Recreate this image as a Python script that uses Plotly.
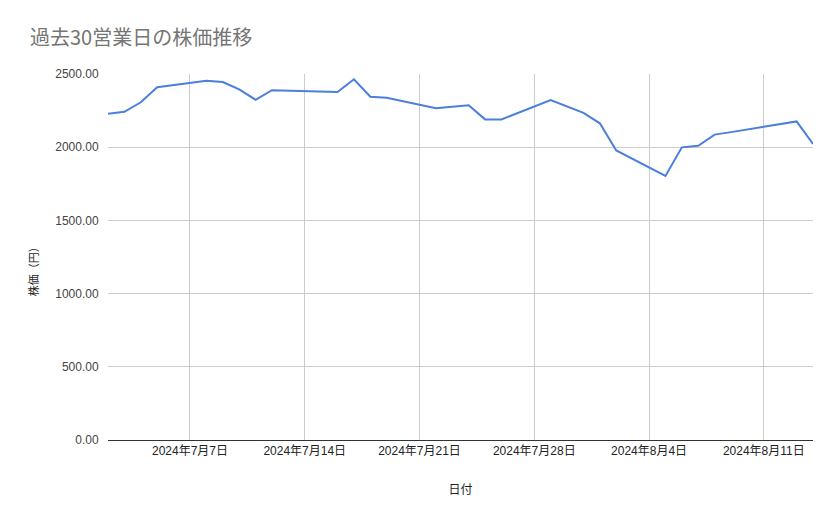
import plotly.graph_objects as go

# 営業日と終値
dates = [
    "2024-07-02", "2024-07-03", "2024-07-04", "2024-07-05",
    "2024-07-08", "2024-07-09", "2024-07-10", "2024-07-11", "2024-07-12",
    "2024-07-16", "2024-07-17", "2024-07-18", "2024-07-19",
    "2024-07-22", "2024-07-23", "2024-07-24", "2024-07-25", "2024-07-26",
    "2024-07-29", "2024-07-30", "2024-07-31", "2024-08-01", "2024-08-02",
    "2024-08-05", "2024-08-06", "2024-08-07", "2024-08-08", "2024-08-09",
    "2024-08-13", "2024-08-14",
]
prices = [
    2229, 2242, 2307, 2409,
    2454, 2445, 2395, 2324, 2389,
    2377, 2464, 2345, 2338,
    2266, 2277, 2286, 2190, 2190,
    2322, 2279, 2234, 2163, 1978,
    1804, 1999, 2010, 2086, 2103,
    2176, 2022,
]

font_family = "Liberation Sans, Arial, Noto Sans CJK JP, sans-serif"

fig = go.Figure()
fig.add_trace(go.Scatter(x=dates, y=prices, mode="lines",
                         line=dict(color="#4a7fdc", width=2)))

# page body has an 8px margin, so margins are shifted to compensate
fig.update_layout(
    width=839, height=519,
    paper_bgcolor="white", plot_bgcolor="white",
    margin=dict(l=100, r=34, t=66, b=87),
    font=dict(family=font_family, size=12, color="#222222"),
    showlegend=False,
    title=dict(text="過去30営業日の株価推移", x=22 / 839, xanchor="left",
               y=1 - 30 / 519, yanchor="middle",
               font=dict(family="Noto Sans CJK JP, sans-serif", size=20, color="#757575")),
    xaxis=dict(
        range=["2024-07-02", "2024-08-14"],
        tick0="2024-07-07", dtick=7 * 86400000,
        tickformat="%Y年%-m月%-d日",
        showgrid=True, gridcolor="#cccccc", gridwidth=1,
        showline=True, linecolor="#333333", linewidth=1,
        ticks="", ticklen=0,
        tickfont=dict(size=12, color="#222222"),
        title=dict(text="日付", standoff=28, font=dict(size=12, color="#222222")),
    ),
    yaxis=dict(
        range=[0, 2500], dtick=500, tickformat=".2f",
        showgrid=True, gridcolor="#cccccc", gridwidth=1,
        zeroline=False, showline=False,
        ticks="outside", ticklen=6, tickcolor="white",
        tickfont=dict(size=12, color="#444444"),
    ),
)

# y axis title, placed a little below the plot centre as in the original
fig.add_annotation(text="株価（円）", textangle=-90, showarrow=False,
                   xref="paper", yref="paper", x=-0.106, y=0.467,
                   xanchor="center", yanchor="middle",
                   font=dict(family="Noto Sans CJK JP, sans-serif", size=11, color="#222222"))

fig.write_html("out.html")
